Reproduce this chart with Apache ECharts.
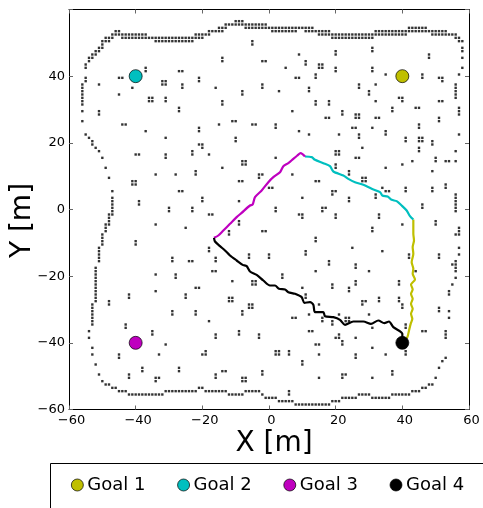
<!DOCTYPE html>
<html><head><meta charset="utf-8">
<script src="https://cdn.jsdelivr.net/npm/echarts@6/dist/echarts.min.js"></script>
<style>html,body{margin:0;padding:0;background:#fff}#c{width:483px;height:508px}</style>
</head><body><div id="c"></div>
<script>
// Wall dots, one row per line: [y, x, x, x ...]
const wallRows = [
[56,-10,-9,-8],
[55,-13,-12,-11,-10,-9,-8,-7,-6,-5,-4,-3,-2,-1],
[54,-15,-14,-13,-7,-6,-5,-4,-3,-2,-1,0,1,2,3,4,5,6,7,8,9,10,11,12,13,42,43,44,45,46,47],
[53,-46,-45,-18,-17,-16,-15,-14,1,2,3,4,5,6,7,8,11,12,13,14,15,16,17,18,32,33,34,35,36,37,38,39,40,41,42,43,44,45,46,47,48,49,50,51,52,53],
[52,-47,-46,-45,-44,-43,-42,-41,-40,-39,-38,-37,-22,-21,-20,-19,-18,15,16,17,18,19,20,21,22,23,24,25,26,27,28,29,30,31,32,33,34,35,36,37,38,39,40,41,49,50,51,52,53,54,55,56],
[51,-49,-48,-47,-44,-43,-42,-41,-40,-39,-38,-37,-36,-35,-34,-33,-32,-31,-30,-29,-28,-27,-26,-25,-24,-23,-22,-21,-20,19,20,21,22,23,24,25,26,27,28,29,30,31,56,57],
[50,-50,-49,-48,-34,-33,-32,-31,-30,-29,-28,-27,-26,-25,-24,-23,57,58],
[49,-50],[48,-51,-50,58],[47,-52,-51,58],[46,-53,-52],[45,-54,-53,58],[44,-54],[43,-55],[42,-55,58],
[40,57],[39,-55],[38,-55],[37,-56,56],[36,-56,56],[35,-56,56],[34,-56,56],[33,-56,56],[32,-56],[31,-56],
[30,57],[29,-56,57],[28,57],[26,-56],[22,-55,57],[21,-54],[20,-53],[19,-53],[18,-52],[17,-51,56],[15,-50],
[14,53,54,56],[12,-49],[9,-48],[5,-47],[4,56],[3,-47,56],[2,-47,56],[1,-47,56],[0,-47,56],[-1,-47,56],
[-2,-47,-48],[-3,-48],[-4,-48],[-5,-48,-49],[-6,-49,57],[-7,-49,57],[-8,-50,56,57],[-9,-50],[-10,-50],[-11,-50],
[-12,-51,57],[-13,-51],[-14,-51,57],[-15,-51],[-16,-51,56],[-17,55,56],[-18,-52,56],[-19,-52,56],[-20,-52],
[-21,-52,56],[-22,-52],[-23,-52,55],[-24,-52],[-25,-52,54],[-26,-52,54],[-27,-52],[-28,-52],[-29,-53],
[-30,-53,51],[-31,-53,51,54],[-32,-53],[-33,-53,54],[-34,-53],[-35,-53],[-37,-54,53],[-38,53],[-39,-54,53],
[-42,-53],[-44,-53],[-45,53],[-46,52],[-47,-52],[-48,51],[-50,-51],[-51,50],[-52,-50],[-53,-49,-48,48,49],
[-54,-47,-46,-21,-20,46,47],
[-55,-45,-44,-43,-31,-30,-29,-28,-27,-26,-25,-24,-23,-22,-19,-18,-17,-16,-15,-14,-13,-7,-6,-5,-4,-3,43,44,45],
[-56,-42,-41,-40,-39,-38,-37,-36,-35,-34,-33,-32,-12,-11,-10,-9,-8,-2,27,28,29,30,37,38,39,40,41,42],
[-57,-1,0,1,2,22,23,24,25,26,31,32,33,34,35,36],
[-58,3,4,5,6,7,19,20,21],
[-59,8,9,10,11,12,13,14,15,16,17,18]
];
// Scattered obstacle dots, same row form
const obstacleRows = [
[50,-5],[49,-5],[48,31],[47,20,31],[46,9,20,48],[45,-14,48],[44,-14,-2,-1,11],
[43,11,15,16],[42,-37,5,15,16,20,31],[41,-37,-27,-26,20,31],[40,14,35,46],
[39,-45,-44,-21,8,9,14,46,51,52],[38,-32,-31,-21,52],[37,-51,-32,-31,-26,-2,27,32],
[36,-41,-26,-16,-2,12,27],[35,-8,3,12,30],[34,-45,-8,30],[33,-36,-35,-31,39,40],
[32,-36,-35,-31,-14,14,18,32,40,51,52],[31,-14,14,18],[30,-27,37,44,45],
[29,-51,-27,7,22,37],[28,-51,22,26,27],[27,17,18,26,27,32,33,51],[26,-11,-10,51],
[25,-44,-43,-15,-5,-4,2,45],[24,-21,2,25,26,31,45],[23,-37,-21,9,35],[22,12,21,27,35],
[21,-31,-10,27,41,45,46],[20,-10,41,45,46,49],[19,-21,-20,49],[18,-20,28,45],
[17,-23,20,21,45],[16,-40,-39,-31,-23,-18,20,21],[15,-31,2,26,27,50],[14,-8,-7,43,50],
[13,-8,-7,20,40],[12,-14,20,35],[11,-22,24,49],[10,-34,-28,-22,-3,-2,7,24],
[9,-3,28,29],[8,-41,-40,-9,-8,14,15,28,29],[7,-41,-40,53],[6,0,1,34,41,49,53],
[5,-27,-26,19,20,35,36,41,49],[4,19,32],[3,-20,10,24,32],[2,-39,-20,-9,24],[1,-39,46],
[0,-30,-23,2,16,17,46],[-1,-30,-23,2,16],[-2,-18,-17,9,10,20,33],[-3,10,20,33],
[-4,-9,50],[-5,-34,-9,40,50],[-6,-25,31],[-7,-12,-2,-1,31],[-8,-12],[-9,14],
[-10,-40,14],[-11,-40],[-12,-18,25],[-13,-18,11,34],[-14,-6,0,11,42,51],[-15,-29,-16,-6,0,42,51],
[-16,-29,-24,-23,-16,18],[-17,18,26],[-18,26],[-19,-17,-16,14,30,44],[-20,-34,-28,4],
[-21,-28,4],[-22,-11,-5,-4,26,39],[-23,-5,-4,19,26,39],[-24,-22,-21,10,19,24],[-25,-34,24],
[-26,-42,-25,11],[-27,-42,-25,-12,-11,11,33,39],[-28,-48,-12,-11,28,29,33,39],[-29,-48,-6,-5,15,28,40],
[-30,-6,-5,40],[-31,-29,-22,-8],[-32,-29,-22,-8,12,21,30],[-33,7,8,16,23,24],[-34,-18,16,19,23,24],
[-35,-43,19,41],[-36,-43,31,41],[-37,-35,-9,12,13,46,47],[-38,-35,-16,-9,-3,21],[-39,-16,-3,20,21,26],
[-40,22],[-41,-31,14,15,22],[-42,31],[-43,-19,2,3,6,41],[-44,-45,-33,-20,-19,2,3,6,15,26,35,41],
[-45,-45,26],[-46,10],[-47,10],[-48,-38,-27],[-49,-38,-27,-14,-13,-2,37],
[-50,-42,-16,-2,22,23,37],[-51,-42,-34,-33,-16,-8,-7,15,22,31],[-52,-34,-8,-7],[-55,6],[-56,6]
];
const goalNames = ['Goal 1','Goal 2','Goal 3','Goal 4'];
const goalColors = ['#bfbf00','#00bfbf','#bf00bf','#000000'];
const goalPoints = [[40,40],[-40,40],[-40,-40],[40,-40]];
const path1 = [[39.9,-40.1],[41.5,-38.3],[42,-36.3],[42.5,-34.3],[43,-32.8],[42.6,-31.3],[43.1,-29.8],[42.6,-28.3],[43.1,-26.8],[42.6,-25.3],[43.1,-24],[42.6,-22.5],[43.8,-21],[43.1,-19.3],[43.3,-17.8],[42.8,-15.8],[43.3,-13.3],[43.1,-11.3],[43.5,-9.3],[43.3,-7.3],[43.3,-3]];
const path2 = [[43.3,-3],[42.3,-2],[41.3,-0.3],[39.8,1.2],[38.3,2.5],[36.8,2.9],[35.6,3.9],[34,4.2],[33.3,5.2],[30.8,6.2],[28.3,7.4],[25.8,8.2],[23.8,9.2],[22.3,10.2],[19.3,11.4],[18.3,13],[16.3,13.9],[13.8,14.9],[12.8,15.7],[10.8,15.9]];
const path3 = [[10.8,15.9],[9.5,16.9],[8.5,16.2],[7.3,15.2],[5.8,13.9],[4.3,13],[3.3,11.2],[1.3,9.7],[-0.2,8.2],[-2.2,5.7],[-4.2,3.7],[-4.9,1.5],[-5.7,1.2],[-8.2,-1],[-9.7,-2.3],[-11.7,-4.3],[-13.7,-6.3],[-15.2,-7.8],[-16.5,-8.5]];
const path4 = [[-16.5,-8.5],[-16.2,-9.6],[-14.7,-11],[-13.2,-12.3],[-11.7,-13.8],[-9.7,-15.3],[-7.9,-16.6],[-6.7,-17],[-5.7,-18.6],[-3.7,-19.6],[-1.7,-21.3],[0.3,-22.8],[1.8,-22.8],[3,-23.8],[4.8,-24],[5.8,-24.8],[7.8,-25.3],[9.8,-26.3],[10.6,-28],[12.3,-27.8],[13.3,-28.6],[13.8,-30.8],[16.3,-30.8],[16.8,-32],[19.3,-32.3],[21.3,-33.1],[22.8,-34.6],[25.3,-33.6],[28.3,-33.6],[30.6,-34.3],[32.8,-33.3],[34.6,-34.1],[36,-33.6],[37.3,-35.3],[40,-37.3],[40,-40]];
const paths = [path1,path2,path3,path4];
const xTitle = 'X [m]', yTitle = 'Y [m]';

const rowCentre = 0.5;
const dots = [];
[...wallRows, ...obstacleRows].forEach(r => r.slice(1).forEach(x => dots.push([x, r[0] + rowCentre])));

const FONT = '"DejaVu Sans"';
const fmt = v => String(v).replace('-', '\u2212');
const baseAxis = {
  type:'value', min:-60, max:60, interval:20,
  axisLine:{show:true, onZero:false, lineStyle:{color:'#000', width:1}},
  axisTick:{show:true, inside:true, length:4, lineStyle:{color:'#666', width:1}},
  splitLine:{show:false},
  axisLabel:{show:true, color:'#000', fontFamily:FONT, fontSize:13, formatter:fmt, showMinLabel:true, showMaxLabel:true, hideOverlap:false}
};
const noLabel = {axisLabel:{show:false}};
const series = [];
paths.forEach((p,i) => series.push({type:'line', name:goalNames[i], data:p, xAxisIndex:0, yAxisIndex:0, showSymbol:false, symbol:'none', smooth:0.25, z:3,
  lineStyle:{color:goalColors[i], width:2.2, join:'round'}, itemStyle:{color:goalColors[i]}, silent:true, animation:false}));
series.push({type:'scatter', name:'dots', data:dots, symbol:'rect', symbolSize:2.4, itemStyle:{color:'#000'}, z:4, silent:true, animation:false, large:false});
goalPoints.forEach((p,i) => series.push({type:'scatter', name:goalNames[i], data:[p], symbol:'circle', symbolSize:13, z:5, silent:true, animation:false,
  itemStyle:{color:goalColors[i], borderColor:'#000', borderWidth:0.7, opacity:1}}));

const chart = echarts.init(document.getElementById('c'), null, {renderer:'canvas'});
chart.setOption({
  animation:false, backgroundColor:'#fff',
  grid:{left:69, right:14, top:9.5, bottom:98.5, containLabel:false, outerBoundsMode:'none'},
  xAxis:[
    Object.assign({}, baseAxis, {position:'bottom', name:xTitle, nameLocation:'middle', nameGap:20, nameMoveOverlap:false,
      nameTextStyle:{fontFamily:FONT, fontSize:28, color:'#000', padding:[0,0,0,10]},
      axisLabel:Object.assign({}, baseAxis.axisLabel, {margin:5, padding:[0,0,0,5]})}),
    Object.assign({}, baseAxis, {position:'top'}, noLabel)
  ],
  yAxis:[
    Object.assign({}, baseAxis, {position:'left', name:yTitle, nameLocation:'middle', nameGap:32, nameMoveOverlap:false,
      nameTextStyle:{fontFamily:FONT, fontSize:28, color:'#000', padding:[0,22,0,0]},
      axisLabel:Object.assign({}, baseAxis.axisLabel, {margin:4, formatter:v => v === 60 ? '' : fmt(v)})}),
    Object.assign({}, baseAxis, {position:'right'}, noLabel)
  ],
  legend:{show:true, left:66, top:471, orient:'horizontal', itemWidth:12, itemHeight:12, itemGap:31.7, selectedMode:false,
    textStyle:{fontFamily:FONT, fontSize:18, color:'#000', padding:[0,0,0,-1]},
    data:goalNames.map((n,i)=>({name:n, icon:'circle', itemStyle:{color:goalColors[i], borderColor:'#000', borderWidth:0.7}}))},
  graphic:[{type:'rect', silent:true, z:0, shape:{x:50.5, y:463.5, width:460, height:80}, style:{fill:'#fff', stroke:'#000', lineWidth:1}}],
  series
});
</script></body></html>
